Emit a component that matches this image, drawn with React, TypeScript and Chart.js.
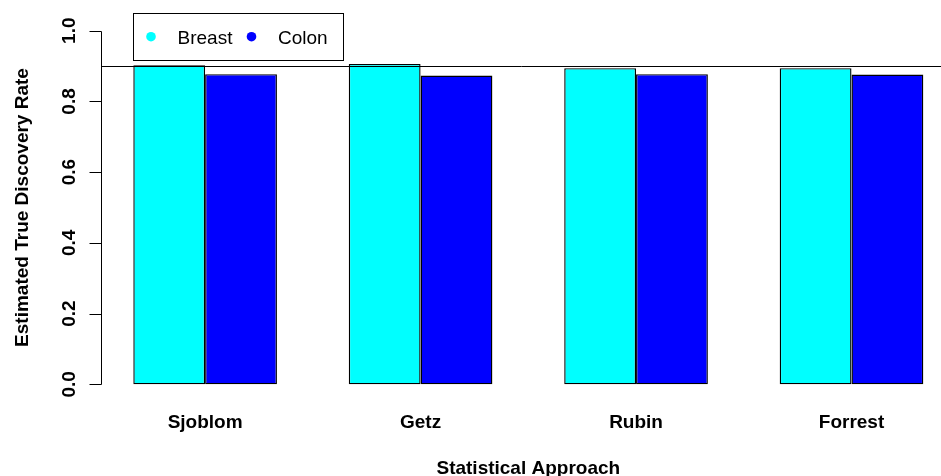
import React, { useEffect, useRef } from "react";
import { Chart, registerables } from "chart.js";

Chart.register(...registerables);

const categories = ["Sjoblom", "Getz", "Rubin", "Forrest"];
const seriesNames = ["Breast", "Colon"];
const breastTDR = [0.902, 0.906, 0.894, 0.894];
const colonTDR = [0.877, 0.873, 0.877, 0.876];
const yTickValues = [0, 0.2, 0.4, 0.6, 0.8, 1.0];
const yTickLabels = ["0.0", "0.2", "0.4", "0.6", "0.8", "1.0"];
const referenceLine = 0.9;
const xTitle = "Statistical Approach";
const yTitle = "Estimated True Discovery Rate";
const seriesColors = ["#00FFFF", "#0000FF"];

const FONT = "'Liberation Sans', Arial, Helvetica, sans-serif";

// group centres in barplot units (space = c(0,1), two bars per group)
const groupCenter = (i: number) => 3 * i + 2;

const overlayPlugin = {
  id: "rOverlay",
  afterDatasetsDraw(chart: any) {
    const { ctx, chartArea } = chart;
    const ys = chart.scales.y;
    const py = Math.round(ys.getPixelForValue(referenceLine)) + 0.5;
    ctx.save();
    ctx.strokeStyle = "#000";
    ctx.lineWidth = 1;
    ctx.beginPath();
    ctx.moveTo(chartArea.left, py);
    ctx.lineTo(chartArea.right, py);
    ctx.stroke();
    ctx.restore();
  },
  afterDraw(chart: any) {
    const { ctx, chartArea } = chart;
    const xs = chart.scales.x;
    const ys = chart.scales.y;
    ctx.save();
    ctx.strokeStyle = "#000";
    ctx.fillStyle = "#000";
    ctx.lineWidth = 1;

    // y axis line and ticks
    const ax = Math.floor(chartArea.left) + 0.5;
    ctx.beginPath();
    ctx.moveTo(ax, Math.round(ys.getPixelForValue(yTickValues[0])) + 0.5);
    ctx.lineTo(ax, Math.round(ys.getPixelForValue(yTickValues[yTickValues.length - 1])) + 0.5);
    yTickValues.forEach((v) => {
      const p = Math.round(ys.getPixelForValue(v)) + 0.5;
      ctx.moveTo(ax - 12, p);
      ctx.lineTo(ax, p);
    });
    ctx.stroke();

    // y tick labels (rotated, bold)
    ctx.font = `bold 19px ${FONT}`;
    ctx.textAlign = "center";
    ctx.textBaseline = "alphabetic";
    yTickValues.forEach((v, i) => {
      const p = ys.getPixelForValue(v);
      ctx.save();
      ctx.translate(74.5, p);
      ctx.rotate(-Math.PI / 2);
      ctx.fillText(yTickLabels[i], 0, 0);
      ctx.restore();
    });

    // y title
    const yMid = (chartArea.top + chartArea.bottom) / 2;
    ctx.save();
    ctx.translate(28, yMid);
    ctx.rotate(-Math.PI / 2);
    ctx.fillText(yTitle, 0, 0);
    ctx.restore();

    // x category labels
    categories.forEach((c, i) => {
      ctx.fillText(c, xs.getPixelForValue(groupCenter(i)), 427.5);
    });

    // x title, centred on the full plot region
    const plotMid = (groupCenter(0) - 1 + groupCenter(categories.length - 1) + 1) / 2;
    ctx.fillText(xTitle, xs.getPixelForValue(plotMid), 473.5);

    // legend
    const lx = Math.round(xs.getPixelForValue(1)) + 0.5;
    ctx.fillStyle = "#fff";
    ctx.fillRect(lx, 13.5, 210, 47);
    ctx.strokeRect(lx, 13.5, 210, 47);
    ctx.font = `19px ${FONT}`;
    ctx.textAlign = "left";
    const entryX = [lx + 17.5, lx + 118];
    seriesNames.forEach((n, i) => {
      ctx.fillStyle = seriesColors[i];
      ctx.beginPath();
      ctx.arc(entryX[i], 36.7, 4.8, 0, Math.PI * 2);
      ctx.fill();
      ctx.fillStyle = "#000";
      ctx.fillText(n, entryX[i] + 26.5, 44.3);
    });
    ctx.restore();
  },
};

export default function App() {
  const ref = useRef<HTMLCanvasElement | null>(null);
  useEffect(() => {
    if (!ref.current) return;
    const chart = new Chart(ref.current, {
      type: "bar",
      data: {
        datasets: [breastTDR, colonTDR].map((vals, s) => ({
          label: seriesNames[s],
          data: vals.map((v, i) => ({ x: groupCenter(i), y: v })),
          backgroundColor: seriesColors[s],
          borderColor: "#000",
          borderWidth: 1.4,
          borderSkipped: false,
          barPercentage: 1,
          categoryPercentage: 2 / 3,
        })),
      },
      options: {
        responsive: false,
        animation: false,
        events: [],
        layout: { padding: { left: 0, right: 0, top: 16.56, bottom: 0 } },
        plugins: {
          legend: { display: false },
          tooltip: { enabled: false },
        },
        scales: {
          x: {
            type: "linear",
            offset: false,
            min: 0.56,
            max: 12.246,
            grid: { display: false },
            border: { display: false },
            ticks: { display: false },
            afterBuildTicks: (s: any) => {
              s.ticks = categories.map((_, i) => ({ value: groupCenter(i) }));
            },
            afterFit: (s: any) => {
              s.height = 77.56;
            },
          },
          y: {
            type: "linear",
            min: -0.04,
            max: 1.04,
            grid: { display: false },
            border: { display: false },
            ticks: { display: false },
            afterBuildTicks: (s: any) => {
              s.ticks = yTickValues.map((v) => ({ value: v }));
            },
            afterFit: (s: any) => {
              s.width = 101.7;
            },
          },
        },
      },
      plugins: [overlayPlugin],
    });
    return () => chart.destroy();
  }, []);
  return (
    <div style={{ position: "absolute", left: 0, top: 0, width: 941, height: 476, background: "#fff" }}>
      <canvas ref={ref} width={941} height={476} />
    </div>
  );
}
